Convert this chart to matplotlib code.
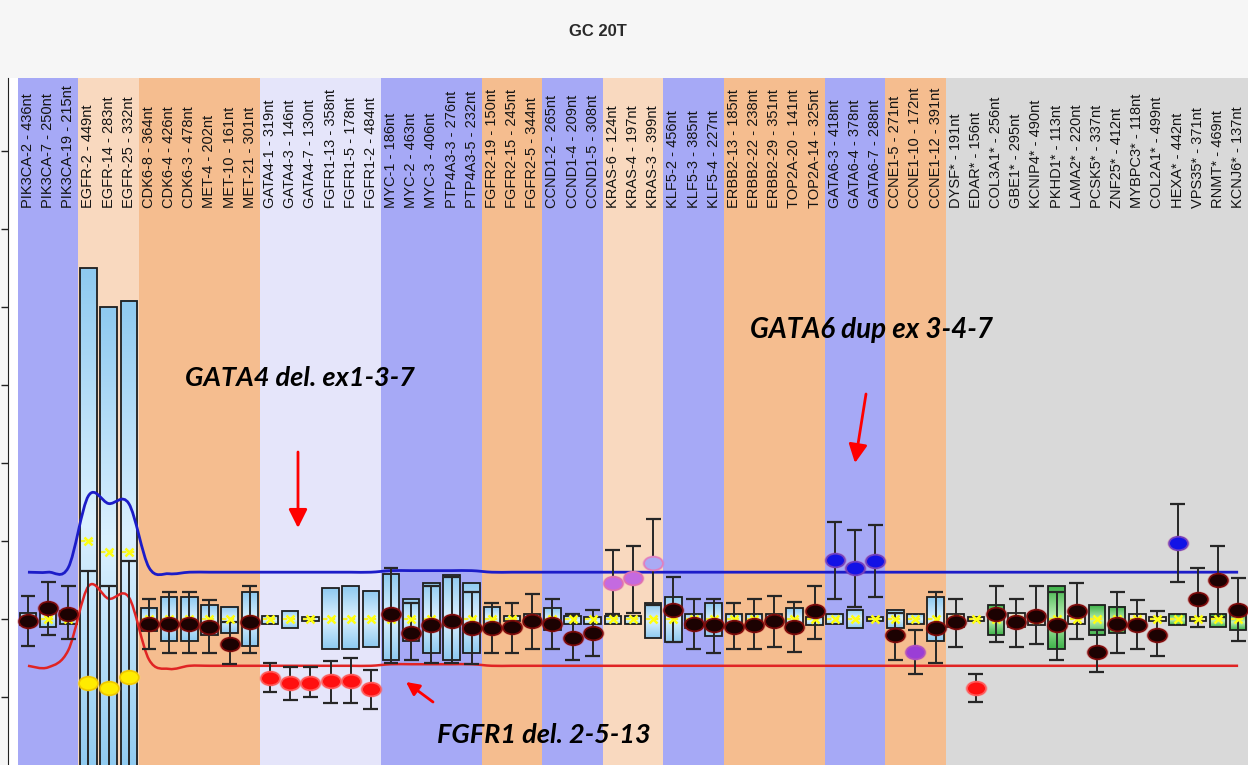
import numpy as np
import matplotlib.pyplot as plt
from matplotlib import font_manager
from matplotlib.colors import to_rgb
from matplotlib.patches import Rectangle, PathPatch, FancyArrowPatch
from matplotlib.path import Path

# probe names and amplicon lengths
probes = ["PIK3CA-2", "PIK3CA-7", "PIK3CA-19", "EGFR-2", "EGFR-14", "EGFR-25",
          "CDK6-8", "CDK6-4", "CDK6-3", "MET-4", "MET-10", "MET-21",
          "GATA4-1", "GATA4-3", "GATA4-7", "FGFR1-13", "FGFR1-5", "FGFR1-2",
          "MYC-1", "MYC-2", "MYC-3", "PTP4A3-3", "PTP4A3-5",
          "FGFR2-19", "FGFR2-15", "FGFR2-5", "CCND1-2", "CCND1-4", "CCND1-5",
          "KRAS-6", "KRAS-4", "KRAS-3", "KLF5-2", "KLF5-3", "KLF5-4",
          "ERBB2-13", "ERBB2-22", "ERBB2-29", "TOP2A-20", "TOP2A-14",
          "GATA6-3", "GATA6-4", "GATA6-7", "CCNE1-5", "CCNE1-10", "CCNE1-12",
          "DYSF*", "EDAR*", "COL3A1*", "GBE1*", "KCNIP4*", "PKHD1*", "LAMA2*",
          "PCSK5*", "ZNF25*", "MYBPC3*", "COL2A1*", "HEXA*", "VPS35*", "RNMT*", "KCNJ6*"]
sizes_nt = [436, 250, 215, 449, 283, 332, 364, 426, 478, 202, 161, 301,
            319, 146, 130, 358, 178, 484, 186, 463, 406, 276, 232,
            150, 245, 344, 265, 209, 308, 124, 197, 399, 456, 385, 227,
            185, 238, 351, 141, 325, 418, 378, 288, 271, 172, 391,
            191, 156, 256, 295, 490, 113, 220, 337, 412, 118, 499, 442, 371, 469, 137]

# sample ratio and its 95% interval
ratio = [0.99, 1.07, 1.03, 0.59, 0.56, 0.63,
         0.97, 0.97, 0.97, 0.95, 0.84, 0.98,
         0.62, 0.59, 0.59, 0.60, 0.60, 0.55,
         1.03, 0.91, 0.96, 0.99, 0.94,
         0.94, 0.95, 0.99, 0.97, 0.88, 0.91,
         1.23, 1.26, 1.36, 1.06, 0.97, 0.96,
         0.95, 0.96, 0.99, 0.95, 1.05,
         1.38, 1.33, 1.37, 0.90, 0.79, 0.94,
         0.98, 0.56, 1.03, 0.98, 1.02, 0.96, 1.05, 0.79, 0.97, 0.96, 0.90, 1.49, 1.13, 1.25, 1.06]
ci_hi = [1.15, 1.24, 1.21, 1.31, 1.21, 1.37,
         1.13, 1.17, 1.17, 1.12, 0.98, 1.21,
         0.72, 0.69, 0.69, 0.73, 0.75, 0.67,
         1.33, 1.10, 1.21, 1.27, 1.17,
         1.10, 1.10, 1.16, 1.13, 1.03, 1.06,
         1.44, 1.47, 1.64, 1.27, 1.13, 1.13,
         1.10, 1.13, 1.15, 1.11, 1.21,
         1.62, 1.57, 1.60, 1.04, 0.93, 1.17,
         1.13, 0.65, 1.21, 1.13, 1.21, 1.17, 1.23, 0.93, 1.17, 1.12, 1.05, 1.74, 1.33, 1.47, 1.26]
ci_lo = [0.83, 0.90, 0.87, 0.00, 0.00, 0.00,
         0.81, 0.78, 0.78, 0.78, 0.71, 0.78,
         0.53, 0.48, 0.50, 0.46, 0.46, 0.42,
         0.72, 0.74, 0.72, 0.72, 0.71,
         0.78, 0.78, 0.81, 0.81, 0.74, 0.76,
         1.03, 1.04, 1.09, 0.85, 0.81, 0.78,
         0.81, 0.81, 0.82, 0.79, 0.87,
         1.13, 1.08, 1.14, 0.74, 0.65, 0.72,
         0.82, 0.47, 0.85, 0.82, 0.84, 0.74, 0.87, 0.66, 0.78, 0.81, 0.76, 1.24, 0.95, 1.01, 0.86]

# reference spread (box) and reference median
ref_hi = [1.04, 1.08, 1.05, 3.25, 3.00, 3.04,
          1.07, 1.14, 1.14, 1.09, 1.08, 1.17,
          1.02, 1.05, 1.01, 1.20, 1.21, 1.18,
          1.29, 1.13, 1.23, 1.28, 1.23,
          1.08, 1.02, 1.03, 1.07, 1.02, 1.01,
          1.02, 1.02, 1.10, 1.14, 1.03, 1.10,
          1.03, 1.03, 1.03, 1.07, 1.01,
          1.03, 1.06, 1.01, 1.06, 1.03, 1.14,
          1.03, 1.01, 1.09, 1.04, 1.03, 1.21, 1.02, 1.09, 1.08, 1.03, 1.01, 1.03, 1.01, 1.03, 1.03]
ref_lo = [0.96, 0.95, 0.97, 0.00, 0.00, 0.00,
          0.92, 0.86, 0.86, 0.90, 0.91, 0.83,
          0.97, 0.94, 0.99, 0.81, 0.81, 0.82,
          0.74, 0.86, 0.78, 0.74, 0.78,
          0.94, 0.99, 0.97, 0.93, 0.97, 0.97,
          0.97, 0.97, 0.88, 0.85, 0.94, 0.89,
          0.97, 0.97, 0.97, 0.93, 0.96,
          0.97, 0.94, 0.99, 0.94, 0.97, 0.86,
          0.95, 0.99, 0.90, 0.95, 0.96, 0.81, 0.97, 0.90, 0.91, 0.98, 0.99, 0.96, 0.99, 0.95, 0.93]
ref_med = [1.0, 1.0, 1.0, 1.50, 1.43, 1.43] + [1.0] * 55

# call per probe: k normal, r loss, b gain, p/l/v ambiguous, y off-scale
calls = "kkkyyy" "kkkkkk" "rrrrrr" "kkkkk" "kkkkkk" "pplkkk" "kkkkk" "bbbkvk" "krkkkkkkkkkbkkk"
# box fill: b target, g reference, w pale reference
box_kind = "b" * 46 + "wwgwwgwggwwgwgg"

# arbiter thresholds per probe
upper = [1.30, 1.30, 1.33, 1.79, 1.74, 1.74, 1.33, 1.29] + [1.30] * 10 + [1.31] * 5 + [1.30] * 38
lower = [0.70, 0.69, 0.80, 1.21, 1.13, 1.14, 0.74, 0.68] + [0.70] * 10 + [0.71] * 5 + [0.70] * 38

band_groups = [["PIK3CA"], ["EGFR"], ["CDK6", "MET"], ["GATA4", "FGFR1"], ["MYC", "PTP4A3"],
               ["FGFR2"], ["CCND1"], ["KRAS"], ["KLF5"], ["ERBB2", "TOP2A"], ["GATA6"],
               ["CCNE1"], ["REF"]]
band_colors = ["#a6a9f6", "#f9d9bf", "#f5bd8f", "#e5e5fa", "#a6a9f6", "#f5bd8f", "#a6a9f6",
               "#f9d9bf", "#a6a9f6", "#f5bd8f", "#a6a9f6", "#f5bd8f", "#d9d9d9"]

dot_face = {"k": "#1c0202", "r": "#ff1010", "b": "#1212e6", "p": "#c46ae0",
            "l": "#aaaaf4", "v": "#9a3ed6", "y": "#ffec00"}
dot_edge = {"k": "#7a0a0a", "r": "#ff5a5a", "b": "#7040c0", "p": "#e070b0",
            "l": "#e080c0", "v": "#b050c0", "y": "#f0c800"}
dot_glow = {"k": "#c02424", "r": "#ff6060", "b": "#c04080", "p": "#e080c0",
            "l": "#e080c0", "v": "#c060c0", "y": "#ffe060"}
box_edge_col = {"b": "#8fcaf0", "g": "#3fb34a", "w": "#d8d2c4"}
box_mid_col = {"b": "#dcf1ff", "g": "#bff0b8", "w": "#f2eee4"}

# narrow face for the probe labels when it is installed
try:
    font_manager.findfont("Liberation Sans Narrow", fallback_to_default=False)
    label_font, label_size = "Liberation Sans Narrow", 11.5
except ValueError:
    label_font, label_size = "Liberation Sans", 10.5

x = np.arange(len(probes))
genes = [p.split("-")[0] if not p.endswith("*") else "REF" for p in probes]

fig = plt.figure(figsize=(12.48, 7.65), dpi=100, facecolor="#f6f6f6")
ax = fig.add_axes([8 / 1248, 0, 1 - 8 / 1248, (765 - 78) / 765])
ax.set_facecolor("white")

# gene bands
for grp, col in zip(band_groups, band_colors):
    idx = [i for i, g in enumerate(genes) if g in grp]
    ax.axvspan(min(idx) - 0.5, max(idx) + 0.5, color=col, lw=0, zorder=0)

# probe labels
for i, (p, n) in enumerate(zip(probes, sizes_nt)):
    ax.text(i, 3.635, f"{p} - {n}nt", rotation=90, ha="center", va="bottom",
            fontsize=label_size, family=label_font, color="#141414", zorder=1)

# reference boxes with a vertical gradient
t = np.linspace(0, 1, 64)
w = 1 - np.abs(2 * t - 1)
bw = 0.41
for i in x:
    k = box_kind[i]
    c0 = np.array(to_rgb(box_edge_col[k]))
    c1 = np.array(to_rgb(box_mid_col[k]))
    grad = (c0[None, :] * (1 - w[:, None]) + c1[None, :] * w[:, None])[:, None, :]
    ax.imshow(grad, extent=[i - bw, i + bw, ref_lo[i], ref_hi[i]], aspect="auto",
              origin="lower", interpolation="bilinear", zorder=2)
    ax.add_patch(Rectangle((i - bw, ref_lo[i]), 2 * bw, ref_hi[i] - ref_lo[i], fill=False,
                           ec="#1e1e1e", lw=1.3, zorder=2.5))


def smooth_path(xs, ys):
    # Catmull-Rom curve written as cubic Bezier segments
    pts = np.column_stack([xs, ys]).astype(float)
    ext = np.vstack([pts[0], pts, pts[-1]])
    verts = [pts[0]]
    codes = [Path.MOVETO]
    for j in range(len(pts) - 1):
        p0, p1, p2, p3 = ext[j], ext[j + 1], ext[j + 2], ext[j + 3]
        verts += [p1 + (p2 - p0) / 6, p2 - (p3 - p1) / 6, p2]
        codes += [Path.CURVE4] * 3
    return Path(verts, codes)


ax.add_patch(PathPatch(smooth_path(x, upper), fill=False, ec="#1c1cc8", lw=2.0, zorder=3))
ax.add_patch(PathPatch(smooth_path(x, lower), fill=False, ec="#e02424", lw=1.8, zorder=3))

# confidence intervals
ax.vlines(x, ci_lo, ci_hi, colors="#262626", lw=1.4, zorder=4)
ax.hlines(ci_hi, x - 0.37, x + 0.37, colors="#262626", lw=1.6, zorder=4)
ax.hlines(ci_lo, x - 0.37, x + 0.37, colors="#262626", lw=1.6, zorder=4)

# reference medians
ax.hlines(ref_med, x - bw + 0.05, x + bw - 0.05, colors="#f4f030", lw=1.6,
          linestyles=(0, (2, 1.5)), zorder=5)
ax.plot(x, ref_med, ls="none", marker="x", color="#ffff10", ms=6, mew=1.8, zorder=5)

# sample ratios as ellipses with a soft rim
circ = Path.unit_circle()
ell = Path(circ.vertices * np.array([1.0, 0.72]), circ.codes)
for i in x:
    c = calls[i]
    ax.plot(i, ratio[i], ls="none", marker=ell, ms=16, mfc=dot_glow[c], mec="none",
            alpha=0.35, zorder=6)
    ax.plot(i, ratio[i], ls="none", marker=ell, ms=13.5, mfc=dot_face[c], mec=dot_edge[c],
            mew=1.2, zorder=7)

ax.set_xlim(-0.99, 60.49)
ax.set_ylim(0.064, 4.468)
ax.set_xticks([])
ax.set_yticks([0.5, 1.0, 1.5, 2.0, 2.5, 3.0, 3.5, 4.0])
ax.tick_params(axis="y", direction="out", length=5, width=1, color="#222222", labelleft=False)
for s in ["top", "right", "bottom"]:
    ax.spines[s].set_visible(False)
ax.spines["left"].set_color("#222222")

fig.text(598 / 1248, 1 - 32 / 765, "GC 20T", ha="center", va="center", fontsize=12,
         fontweight="bold", color="#2a2a2a", family="Liberation Sans")

note = dict(fontweight="bold", style="italic", family="Lato", color="black",
            ha="center", va="center", zorder=9)
fig.text(300 / 1248, 1 - 378 / 765, "GATA4 del. ex1-3-7", fontsize=19.5, **note)
fig.text(872 / 1248, 1 - 330 / 765, "GATA6 dup ex 3-4-7", fontsize=20, **note)
fig.text(544 / 1248, 1 - 735 / 765, "FGFR1 del. 2-5-13", fontsize=19.5, **note)

arrow = dict(arrowstyle="-|>,head_length=0.7,head_width=0.35", color="#ff0000", lw=2,
             mutation_scale=16, shrinkA=0, shrinkB=0)
small_arrow = dict(arrow, arrowstyle="-|>,head_length=0.6,head_width=0.3", mutation_scale=13)
for tail, tip, props in [((298, 452), (298, 528), arrow),
                         ((866, 394), (855, 463), arrow),
                         ((433, 702), (406, 682), small_arrow)]:
    fig.add_artist(FancyArrowPatch(
        (tail[0] / 1248, 1 - tail[1] / 765), (tip[0] / 1248, 1 - tip[1] / 765),
        transform=fig.transFigure, zorder=9, **props))

fig.savefig("out.png", dpi=100, facecolor=fig.get_facecolor())
